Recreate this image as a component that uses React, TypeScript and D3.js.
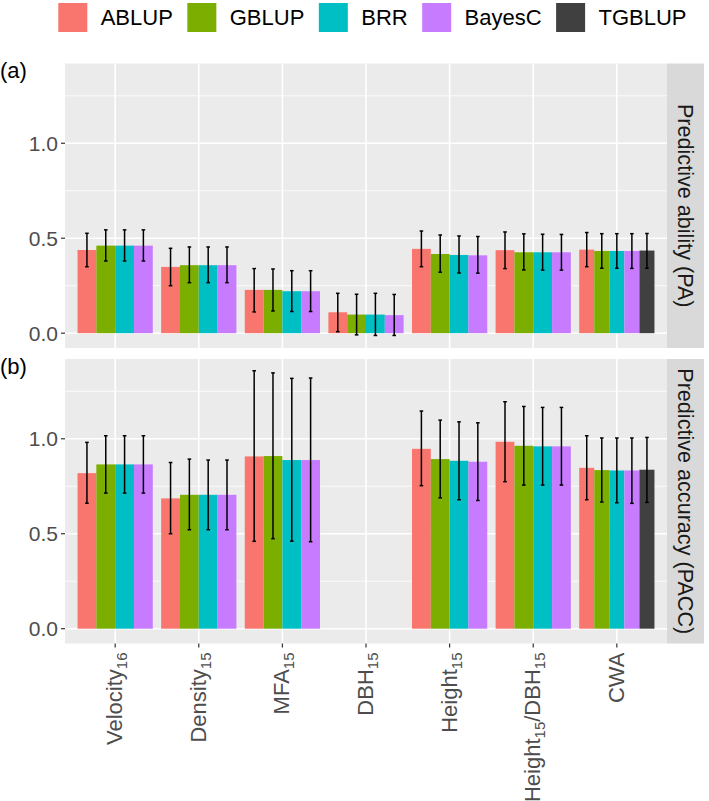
import React from "react";
import * as d3 from "d3";

// ---------------- DATA ----------------
const traitLabels = ["Velocity_16", "Density_15", "MFA_15", "DBH_15", "Height_15", "Height_15/DBH_15", "CWA"];
const methods = ["ABLUP", "GBLUP", "BRR", "BayesC", "TGBLUP"];
const methodColors = ["#F8766D", "#7CAE00", "#00BFC4", "#C77CFF", "#404040"];
const yTicks = [0, 0.5, 1.0];
const yMinor = [0.25, 0.75, 1.25];

type V = number | null;
// Predictive ability (PA)
const paMean: V[][] = [
  [0.438, 0.349, 0.228, 0.110, 0.444, 0.437, 0.440],
  [0.461, 0.358, 0.228, 0.098, 0.417, 0.426, 0.433],
  [0.461, 0.358, 0.221, 0.098, 0.412, 0.426, 0.433],
  [0.461, 0.358, 0.221, 0.095, 0.410, 0.426, 0.433],
  [null, null, null, null, null, null, 0.435],
];
const paLow: V[][] = [
  [0.350, 0.250, 0.112, 0.008, 0.350, 0.340, 0.350],
  [0.380, 0.266, 0.117, -0.009, 0.321, 0.333, 0.342],
  [0.380, 0.266, 0.114, -0.012, 0.317, 0.332, 0.342],
  [0.380, 0.266, 0.114, -0.012, 0.316, 0.332, 0.341],
  [null, null, null, null, null, null, 0.342],
];
const paHigh: V[][] = [
  [0.526, 0.447, 0.340, 0.210, 0.538, 0.533, 0.530],
  [0.544, 0.454, 0.338, 0.205, 0.517, 0.523, 0.524],
  [0.544, 0.454, 0.329, 0.210, 0.512, 0.521, 0.524],
  [0.544, 0.454, 0.329, 0.204, 0.509, 0.520, 0.524],
  [null, null, null, null, null, null, 0.525],
];
// Predictive accuracy (PACC)
const paccMean: V[][] = [
  [0.819, 0.686, 0.907, null, 0.947, 0.984, 0.847],
  [0.865, 0.705, 0.909, null, 0.893, 0.963, 0.835],
  [0.865, 0.705, 0.888, null, 0.884, 0.960, 0.833],
  [0.865, 0.705, 0.888, null, 0.879, 0.960, 0.833],
  [null, null, null, null, null, null, 0.837],
];
const paccLow: V[][] = [
  [0.661, 0.500, 0.460, null, 0.753, 0.774, 0.679],
  [0.714, 0.521, 0.474, null, 0.689, 0.756, 0.667],
  [0.714, 0.521, 0.461, null, 0.679, 0.756, 0.663],
  [0.714, 0.521, 0.458, null, 0.675, 0.756, 0.660],
  [null, null, null, null, null, null, 0.665],
];
const paccHigh: V[][] = [
  [0.981, 0.875, 1.358, null, 1.146, 1.195, 1.016],
  [1.016, 0.893, 1.347, null, 1.098, 1.170, 1.004],
  [1.016, 0.888, 1.318, null, 1.089, 1.165, 1.004],
  [1.016, 0.888, 1.320, null, 1.084, 1.165, 1.004],
  [null, null, null, null, null, null, 1.007],
];

// ---------------- LAYOUT ----------------
const W = 709, H = 801;
const FONT = "'Liberation Sans', Arial, Helvetica, sans-serif";
const panelLeft = 65, panelRight = 667, stripRight = 704;
const panels = [
  { label: "(a)", strip: "Predictive ability (PA)", top: 63.5, bottom: 348, mean: paMean, low: paLow, high: paHigh },
  { label: "(b)", strip: "Predictive accuracy (PACC)", top: 359, bottom: 643.5, mean: paccMean, low: paccLow, high: paccHigh },
];
const yDomain: [number, number] = [-0.078, 1.42];

function measure(text: string, font: string): number {
  const c = document.createElement("canvas").getContext("2d");
  if (!c) return text.length * 12;
  c.font = font;
  return c.measureText(text).width;
}

function Label({ s }: { s: string }) {
  const parts = s.split(/_(\d+)/);
  const out: React.ReactNode[] = [];
  let shifted = false;
  parts.forEach((p, i) => {
    if (p === "") return;
    if (i % 2 === 1) {
      out.push(<tspan key={i} fontSize={15} dy={5}>{p}</tspan>);
      shifted = true;
    } else {
      out.push(<tspan key={i} dy={shifted ? -5 : 0}>{p}</tspan>);
      shifted = false;
    }
  });
  return <>{out}</>;
}

export default function App() {
  const x = d3.scalePoint<string>().domain(traitLabels).range([panelLeft, panelRight]).padding(0.6);
  const step = x.step();
  const groupW = 0.9 * step;

  // legend layout
  const legFont = `22px ${FONT}`;
  let lx = 58.3;
  const legendItems = methods.map((m, i) => {
    const item = { m, color: methodColors[i], x: lx };
    lx += 29 + 13.4 + measure(m, legFont) + 14.5;
    return item;
  });

  return (
    <svg width={W} height={H} style={{ position: "absolute", left: 0, top: 0, background: "#fff" }} fontFamily={FONT}>
      {/* legend */}
      {legendItems.map((it) => (
        <g key={it.m}>
          <rect x={it.x} y={3} width={29} height={29} fill={it.color} />
          <text x={it.x + 29 + 13.4} y={17.5} fontSize={22} dominantBaseline="central" fill="#000">{it.m}</text>
        </g>
      ))}

      {panels.map((p, pi) => {
        const y = d3.scaleLinear().domain(yDomain).range([p.bottom, p.top]);
        const bars: React.ReactNode[] = [];
        const errs: React.ReactNode[] = [];
        traitLabels.forEach((t, ti) => {
          const present = methods.map((_, mi) => mi).filter((mi) => p.mean[mi][ti] !== null);
          const n = present.length;
          if (!n) return;
          const bw = groupW / n;
          const x0 = (x(t) as number) - groupW / 2;
          present.forEach((mi, k) => {
            const v = p.mean[mi][ti] as number;
            const bx = x0 + k * bw;
            bars.push(
              <rect key={`b${ti}-${mi}`} x={bx} width={bw} y={y(v)} height={y(0) - y(v)} fill={methodColors[mi]} />
            );
            const lo = p.low[mi][ti], hi = p.high[mi][ti];
            if (lo !== null && hi !== null) {
              const cx = bx + bw / 2;
              errs.push(
                <g key={`e${ti}-${mi}`} stroke="#000" strokeWidth={1.5}>
                  <line x1={cx} x2={cx} y1={y(lo)} y2={y(hi)} />
                  <line x1={cx - 1.8} x2={cx + 1.8} y1={y(lo)} y2={y(lo)} />
                  <line x1={cx - 1.8} x2={cx + 1.8} y1={y(hi)} y2={y(hi)} />
                </g>
              );
            }
          });
        });
        return (
          <g key={pi}>
            <rect x={panelLeft} y={p.top} width={panelRight - panelLeft} height={p.bottom - p.top} fill="#EBEBEB" />
            {yMinor.map((v) => (
              <line key={`mn${v}`} x1={panelLeft} x2={panelRight} y1={y(v)} y2={y(v)} stroke="#fff" strokeWidth={0.8} />
            ))}
            {yTicks.map((v) => (
              <line key={`mj${v}`} x1={panelLeft} x2={panelRight} y1={y(v)} y2={y(v)} stroke="#fff" strokeWidth={1.6} />
            ))}
            {traitLabels.map((t) => (
              <line key={`vx${t}`} x1={x(t)} x2={x(t)} y1={p.top} y2={p.bottom} stroke="#fff" strokeWidth={1.6} />
            ))}
            {bars}
            {errs}
            {/* y axis */}
            {yTicks.map((v) => (
              <g key={`yt${v}`}>
                <line x1={panelLeft - 4} x2={panelLeft} y1={y(v)} y2={y(v)} stroke="#333" strokeWidth={1.2} />
                <text x={panelLeft - 7} y={y(v)} textAnchor="end" dominantBaseline="central" fontSize={21} fill="#4D4D4D">
                  {d3.format(".1f")(v)}
                </text>
              </g>
            ))}
            {/* strip */}
            <rect x={panelRight} y={p.top} width={stripRight - panelRight} height={p.bottom - p.top} fill="#D9D9D9" />
            <text
              transform={`translate(${(panelRight + stripRight) / 2},${(p.top + p.bottom) / 2}) rotate(90)`}
              textAnchor="middle" dominantBaseline="central" fontSize={21.6} fill="#1A1A1A"
            >
              {p.strip}
            </text>
            {/* panel tag */}
            <text x={0} y={p.top + 14.5} fontSize={22} fill="#000">{p.label}</text>
          </g>
        );
      })}

      {/* x axis */}
      {traitLabels.map((t) => {
        const cx = x(t) as number;
        const by = panels[1].bottom;
        return (
          <g key={`xt${t}`}>
            <line x1={cx} x2={cx} y1={by} y2={by + 4} stroke="#333" strokeWidth={1.2} />
            <text transform={`translate(${cx + 7},${by + 9}) rotate(-90)`} textAnchor="end" fontSize={22} fill="#4D4D4D">
              <Label s={t} />
            </text>
          </g>
        );
      })}
    </svg>
  );
}
